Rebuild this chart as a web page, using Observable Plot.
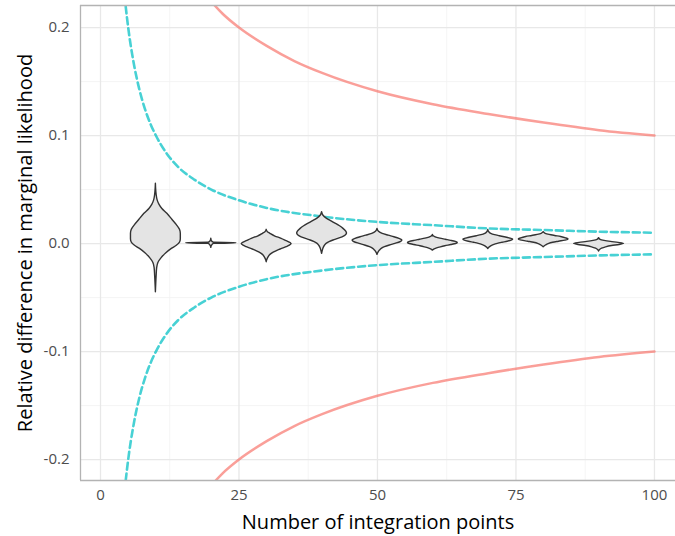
<!DOCTYPE html>
<html>
<head>
<meta charset="utf-8">
<script src="https://cdn.jsdelivr.net/npm/d3@7"></script>
<script src="https://cdn.jsdelivr.net/npm/@observablehq/plot@0.6"></script>
<style>
  body { margin: 0; background: #ffffff; }
  #chart svg { display: block; }
</style>
</head>
<body>
<div id="chart"></div>
<script>
// Number of integration points at which the relative error was sampled
const pointCounts = [10, 20, 30, 40, 50, 60, 70, 80, 90];

// Violin outlines: [relative difference, relative half-width (0..1)]
const violin10 = [[0.0553,0],[0.045,0.03],[0.040,0.07],[0.036,0.14],[0.032,0.26],[0.0275,0.46],[0.022,0.66],[0.017,0.84],[0.0125,0.97],[0.009,1.0],[0.004,1.0],[0.001,0.97],[-0.002,0.84],[-0.005,0.64],[-0.009,0.42],[-0.0135,0.23],[-0.018,0.1],[-0.023,0.05],[-0.03,0.03],[-0.0451,0]];
const violin20 = [[0.0044,0],[0.002,0.03],[0.0008,0.1],[0.0004,1],[0.0,1],[-0.0004,0.1],[-0.002,0.03],[-0.004,0]];
const violin30 = [[0.0127,0],[0.0105,0.05],[0.009,0.15],[0.0065,0.35],[0.0044,0.6],[0.0022,0.8],[0.0005,0.96],[-0.0005,1],[-0.002,0.93],[-0.0034,0.8],[-0.005,0.62],[-0.0065,0.45],[-0.0085,0.28],[-0.0105,0.15],[-0.013,0.07],[-0.0155,0.02],[-0.0173,0]];
const violin40 = [[0.029,0],[0.026,0.05],[0.0229,0.2],[0.0205,0.38],[0.0182,0.56],[0.016,0.72],[0.0136,0.86],[0.011,0.97],[0.0092,1],[0.0075,0.95],[0.0058,0.82],[0.0043,0.65],[0.0028,0.46],[0.0012,0.3],[-0.0003,0.18],[-0.0025,0.1],[-0.005,0.05],[-0.0075,0.02],[-0.0095,0]];
const violin50 = [[0.0135,0],[0.011,0.06],[0.009,0.21],[0.0073,0.45],[0.0058,0.68],[0.0043,0.88],[0.0028,1],[0.0012,0.92],[-0.0003,0.72],[-0.0018,0.5],[-0.0034,0.3],[-0.005,0.17],[-0.0065,0.1],[-0.0085,0.04],[-0.0105,0]];
const violin60 = [[0.008,0],[0.0065,0.05],[0.0055,0.14],[0.0045,0.3],[0.0035,0.52],[0.0025,0.74],[0.0015,0.92],[0.0006,1],[-0.0004,0.93],[-0.0014,0.74],[-0.0025,0.5],[-0.0035,0.32],[-0.0045,0.17],[-0.0055,0.07],[-0.0065,0]];
const violin70 = [[0.0125,0],[0.0105,0.04],[0.009,0.12],[0.0078,0.27],[0.0068,0.46],[0.0058,0.66],[0.0048,0.85],[0.0037,1],[0.0027,0.94],[0.0017,0.78],[0.0007,0.57],[-0.0003,0.38],[-0.0015,0.22],[-0.0028,0.1],[-0.004,0.04],[-0.005,0]];
const violin80 = [[0.0105,0],[0.009,0.08],[0.008,0.24],[0.007,0.46],[0.006,0.7],[0.0048,0.9],[0.0037,1],[0.0027,0.87],[0.0017,0.62],[0.0007,0.38],[-0.0005,0.2],[-0.0018,0.09],[-0.0034,0]];
const violin90 = [[0.005,0],[0.0035,0.06],[0.0025,0.22],[0.0015,0.48],[0.0006,0.78],[-0.0003,1],[-0.0013,0.82],[-0.0023,0.52],[-0.0035,0.28],[-0.0048,0.12],[-0.006,0.04],[-0.0074,0]];
const violins = [violin10, violin20, violin30, violin40, violin50, violin60, violin70, violin80, violin90];

// Error bound of order 1/n (dashed)
const fastN = [4, 4.5, 5, 6, 7, 8, 9, 10, 12, 14, 17, 20, 25, 30, 40, 50, 60, 70, 80, 90, 100];
const fastBound = [0.25, 0.222, 0.2, 0.167, 0.143, 0.125, 0.111, 0.1, 0.083, 0.071, 0.059, 0.05, 0.04, 0.033, 0.025, 0.02, 0.017, 0.014, 0.0125, 0.011, 0.01];

// Error bound of order 1/sqrt(n) (solid)
const slowN = [18, 20, 22, 25, 30, 35, 40, 50, 60, 70, 80, 90, 100];
const slowBound = [0.236, 0.224, 0.213, 0.2, 0.183, 0.169, 0.158, 0.141, 0.129, 0.12, 0.112, 0.105, 0.1];

// Axis ticks
const xTicks = [0, 25, 50, 75, 100];
const xMinor = [12.5, 37.5, 62.5, 87.5];
const yTicks = [-0.2, -0.1, 0, 0.1, 0.2];
const yMinor = [-0.15, -0.05, 0.05, 0.15];

const xDomain = [-3.61, 103.8];
const yDomain = [-0.2194, 0.2204];
const violinHalfWidth = 4.5;

// Tables built from the arrays above
const violinRows = violins.flatMap((v, i) =>
  v.map(([y, w]) => ({group: pointCounts[i], n: pointCounts[i], y, w})));

const boundRows = (ns, bs, name) => [
  ...ns.map((n, i) => ({n, y: bs[i], side: name + "+"})),
  ...ns.map((n, i) => ({n, y: -bs[i], side: name + "-"}))
];
const fastRows = boundRows(fastN, fastBound, "fast");
const slowRows = boundRows(slowN, slowBound, "slow");

const chart = Plot.plot({
  width: 675,
  height: 536,
  marginLeft: 80,
  marginRight: 0,
  marginTop: 5,
  marginBottom: 56,
  style: {fontFamily: "'Open Sans', sans-serif", fontSize: "15px", color: "#4d4d4d", background: "#ffffff"},
  x: {domain: xDomain, label: null},
  y: {domain: yDomain, label: null},
  marks: [
    // grid
    Plot.ruleX(xMinor, {stroke: "#f0f0f0", strokeWidth: 0.7}),
    Plot.ruleY(yMinor, {stroke: "#f0f0f0", strokeWidth: 0.7}),
    Plot.ruleX(xTicks, {stroke: "#e8e8e8", strokeWidth: 1.3}),
    Plot.ruleY(yTicks, {stroke: "#e8e8e8", strokeWidth: 1.3}),
    // reference bounds
    Plot.line(slowRows, {x: "n", y: "y", z: "side", stroke: "#F8766D", strokeOpacity: 0.7, strokeWidth: 2.5, curve: "monotone-x", clip: true}),
    Plot.line(fastRows, {x: "n", y: "y", z: "side", stroke: "#00BFC4", strokeOpacity: 0.72, strokeWidth: 2.6, strokeDasharray: "7,4", curve: "monotone-x", clip: true}),
    // violins
    Plot.areaX(violinRows, {
      y: "y",
      x1: d => d.n - violinHalfWidth * d.w,
      x2: d => d.n + violinHalfWidth * d.w,
      z: "group",
      fill: "#e4e4e4",
      stroke: "#333333",
      strokeWidth: 1.4,
      curve: "monotone-y"
    }),
    // panel border (left, top, bottom)
    Plot.ruleX([xDomain[0]], {stroke: "#b3b3b3", strokeWidth: 1.3}),
    Plot.ruleY([yDomain[0], yDomain[1]], {stroke: "#b3b3b3", strokeWidth: 1.3}),
    // axes
    Plot.axisX(xTicks, {tickSize: 0, tickPadding: 9, label: null, fill: "#4d4d4d"}),
    Plot.axisY(yTicks, {tickSize: 0, tickPadding: 11, label: null, fill: "#4d4d4d", tickFormat: d => d.toFixed(1)}),
    // axis titles
    Plot.text(["Number of integration points"], {frameAnchor: "bottom", dy: 42, lineAnchor: "middle", textAnchor: "middle", fontSize: 20, fill: "#000000"}),
    Plot.text(["Relative difference in marginal likelihood"], {frameAnchor: "left", dx: -55, rotate: -90, lineAnchor: "middle", textAnchor: "middle", fontSize: 20, fill: "#000000"})
  ]
});

document.getElementById("chart").appendChild(chart);
</script>
</body>
</html>
